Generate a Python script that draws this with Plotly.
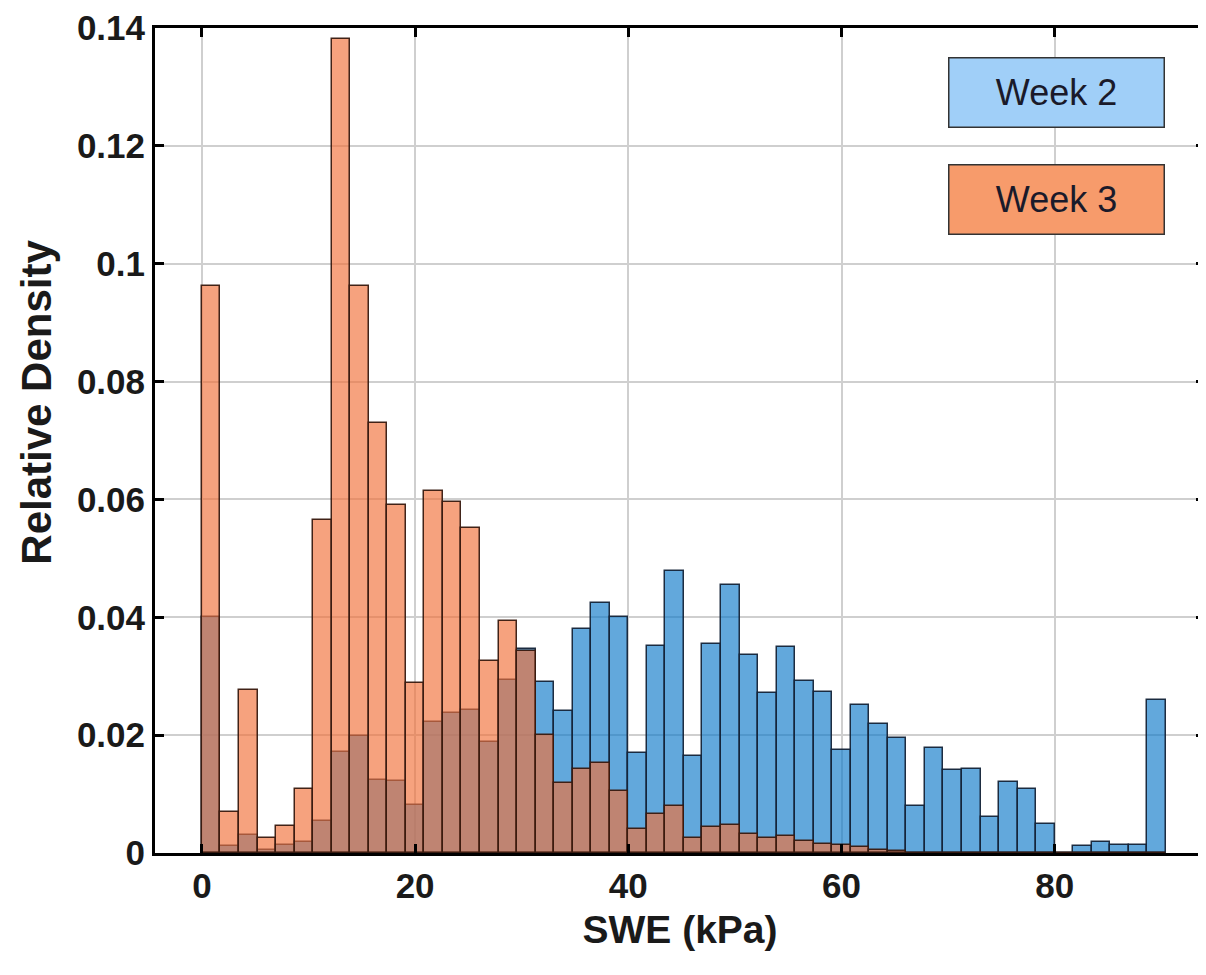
import numpy as np
import plotly.graph_objects as go

# Histogram bins (SWE, kPa): 52 equal-width bins starting at 0
bin_start = 0.0
bin_width = 80.0 / 46.0
n_bins = 52

week2_density = [
    0.0400, 0.0012, 0.0030, 0.0005, 0.0013, 0.0019, 0.0055, 0.0172, 0.0199, 0.0124,
    0.0123, 0.0081, 0.0222, 0.0238, 0.0242, 0.0189, 0.0294, 0.0346, 0.0290, 0.0241,
    0.0380, 0.0424, 0.0400, 0.0170, 0.0352, 0.0479, 0.0165, 0.0355, 0.0454, 0.0336,
    0.0271, 0.0349, 0.0292, 0.0273, 0.0175, 0.0251, 0.0219, 0.0196, 0.0080, 0.0178,
    0.0141, 0.0142, 0.0061, 0.0121, 0.0109, 0.0050, 0.0000, 0.0012, 0.0019, 0.0014,
    0.0014, 0.0260,
]
week3_density = [
    0.0962, 0.0070, 0.0277, 0.0026, 0.0046, 0.0109, 0.0565, 0.1381, 0.0962, 0.0729,
    0.0590, 0.0288, 0.0615, 0.0596, 0.0551, 0.0325, 0.0394, 0.0343, 0.0200, 0.0118,
    0.0143, 0.0152, 0.0106, 0.0040, 0.0066, 0.0080, 0.0025, 0.0044, 0.0048, 0.0032,
    0.0025, 0.0029, 0.0020, 0.0016, 0.0013, 0.0010, 0.0005, 0.0003, 0.0, 0.0,
    0.0, 0.0, 0.0, 0.0, 0.0, 0.0, 0.0, 0.0, 0.0, 0.0,
    0.0, 0.0,
]
series_names = ["Week 2", "Week 3"]
x_ticks = [0, 20, 40, 60, 80]
y_ticks = [0, 0.02, 0.04, 0.06, 0.08, 0.1, 0.12, 0.14]
y_tick_text = ["0", "0.02", "0.04", "0.06", "0.08", "0.1", "0.12", "0.14"]

centers = bin_start + (np.arange(n_bins) + 0.5) * bin_width

fig = go.Figure()
fig.add_trace(go.Bar(
    x=centers, y=week2_density, width=bin_width, name=series_names[0],
    marker=dict(color="rgba(14,122,201,0.65)",
                line=dict(color="rgba(20,35,55,0.95)", width=1.5)),
))
fig.add_trace(go.Bar(
    x=centers, y=week3_density, width=bin_width, name=series_names[1],
    marker=dict(color="rgba(241,112,57,0.65)",
                line=dict(color="rgba(55,25,15,0.95)", width=1.5)),
))

tick_font = dict(family="Liberation Sans, Arial, sans-serif", size=35, color="#1a1a1a")

fig.update_layout(
    width=1206, height=975,
    barmode="overlay", bargap=0,
    showlegend=False,
    paper_bgcolor="white", plot_bgcolor="white",
    margin=dict(l=147, r=9, t=20, b=130, autoexpand=False),
    font=dict(family="Liberation Sans, Arial, sans-serif", color="#1a1a1a"),
    xaxis=dict(
        range=[-4.4, 94.1], tickvals=x_ticks, ticktext=[f"<b>{t}</b>" for t in x_ticks],
        tickfont=tick_font, ticks="inside", ticklen=9, tickwidth=3, tickcolor="black",
        ticklabeloverflow="allow",
        showline=True, linecolor="black", linewidth=3, mirror="ticks",
        showgrid=True, gridcolor="#cfcfcf", gridwidth=2, zeroline=False,
        title=dict(text="<b>SWE (kPa)</b>", font=dict(size=39, color="#1a1a1a"), standoff=12),
    ),
    yaxis=dict(
        range=[0, 0.14], tickvals=y_ticks, ticktext=[f"<b>{t}</b>" for t in y_tick_text],
        tickfont=tick_font, ticks="inside", ticklen=9, tickwidth=3, tickcolor="black",
        ticklabeloverflow="allow",
        showline=True, linecolor="black", linewidth=3, mirror="ticks",
        showgrid=True, gridcolor="#cfcfcf", gridwidth=2, zeroline=False,
    ),
)

# y-axis title placed as rotated text, slightly above the plot centre as in the reference
fig.add_annotation(
    text="<b>Relative Density</b>", xref="paper", yref="paper",
    x=-0.1124, y=0.547, xanchor="center", yanchor="middle", textangle=-90,
    showarrow=False,
    font=dict(family="Liberation Sans, Arial, sans-serif", size=42, color="#1a1a1a"),
)

legend_boxes = [
    (series_names[0], 0.859, 0.9215, "#a0cff8"),
    (series_names[1], 0.859, 0.7926, "#f79b6b"),
]
for text, xp, yp, bg in legend_boxes:
    fig.add_annotation(
        text=text, xref="paper", yref="paper", x=xp, y=yp,
        xanchor="center", yanchor="middle", showarrow=False,
        width=214, height=68, align="center", valign="middle",
        bgcolor=bg, bordercolor="#333333", borderwidth=1.5, borderpad=0,
        font=dict(family="Liberation Sans, Arial, sans-serif", size=36, color="#1a1a2a"),
    )

fig.write_html("out.html")
